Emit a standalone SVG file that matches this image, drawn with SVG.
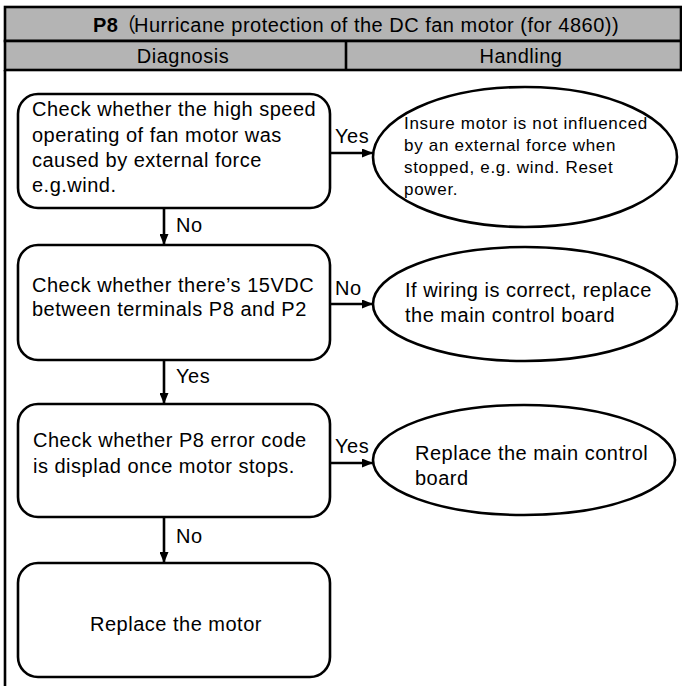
<svg xmlns="http://www.w3.org/2000/svg" width="682" height="686" viewBox="0 0 682 686">
<defs>
<style>
text{font-family:"Liberation Sans",Arial,"Noto Sans CJK SC",sans-serif;fill:#000}
.t{font-size:20px;letter-spacing:0.5px}
.s{font-size:17px;letter-spacing:0.7px}
.node{fill:#fff;stroke:#000;stroke-width:2.6}
.hdr{fill:#b4b4b4;stroke:#000;stroke-width:2.6}
.con line{stroke:#000;stroke-width:2.6}
</style>
<marker id="ah" viewBox="0 0 10 10" refX="10" refY="5" markerWidth="11" markerHeight="9" markerUnits="userSpaceOnUse" orient="auto" preserveAspectRatio="none">
<path d="M0,0 L10,5 L0,10 Z" fill="#000"/>
</marker>
</defs>
<rect width="682" height="686" fill="#fff"/>
<g id="header">
<rect class="hdr" x="5" y="7" width="676" height="34"/>
<rect class="hdr" x="5" y="41" width="676" height="29"/>
<line x1="346" y1="41" x2="346" y2="70" stroke="#000" stroke-width="2.6"/>
<line x1="5" y1="70" x2="5" y2="686" stroke="#000" stroke-width="2.6"/>
<text class="t" y="32"><tspan x="93" font-weight="bold">P8</tspan><tspan x="116" font-family="'Noto Sans CJK SC',sans-serif" letter-spacing="0">（</tspan><tspan x="134">Hurricane protection of the DC fan motor (for 4860))</tspan></text>
<text class="t" x="183" y="63" text-anchor="middle">Diagnosis</text>
<text class="t" x="521" y="63" text-anchor="middle">Handling</text>
</g>
<g class="con" id="connectors">
<line x1="164" y1="208" x2="164" y2="245" marker-end="url(#ah)"/>
<line x1="164" y1="360" x2="164" y2="404" marker-end="url(#ah)"/>
<line x1="164" y1="517" x2="164" y2="563" marker-end="url(#ah)"/>
<line x1="330" y1="153" x2="373" y2="153" marker-end="url(#ah)"/>
<line x1="330" y1="304" x2="373" y2="304" marker-end="url(#ah)"/>
<line x1="330" y1="463" x2="373" y2="463" marker-end="url(#ah)"/>
<text class="t" x="176" y="232">No</text>
<text class="t" x="176" y="383">Yes</text>
<text class="t" x="176" y="543">No</text>
<text class="t" x="335" y="143">Yes</text>
<text class="t" x="335" y="295">No</text>
<text class="t" x="335" y="453">Yes</text>
</g>
<g id="box1">
<rect class="node" x="18" y="94" width="312" height="114" rx="20"/>
<text class="t" x="32" y="116">Check whether the high speed</text>
<text class="t" x="32" y="142">operating of fan motor was</text>
<text class="t" x="32" y="167">caused by external force</text>
<text class="t" x="32" y="192">e.g.wind.</text>
</g>
<g id="box2">
<rect class="node" x="18" y="245" width="312" height="115" rx="20"/>
<text class="t" x="32" y="292">Check whether there’s 15VDC</text>
<text class="t" x="32" y="316">between terminals P8 and P2</text>
</g>
<g id="box3">
<rect class="node" x="18" y="404" width="312" height="113" rx="20"/>
<text class="t" x="33" y="447">Check whether P8 error code</text>
<text class="t" x="33" y="473">is displad once motor stops.</text>
</g>
<g id="box4">
<rect class="node" x="18" y="563" width="312" height="114" rx="20"/>
<text class="t" x="176" y="631" text-anchor="middle">Replace the motor</text>
</g>
<g id="ell1">
<ellipse class="node" cx="525" cy="157" rx="152" ry="70"/>
<text class="s" x="404" y="129">Insure motor is not influenced</text>
<text class="s" x="404" y="151">by an external force when</text>
<text class="s" x="404" y="173">stopped, e.g. wind. Reset</text>
<text class="s" x="404" y="195">power.</text>
</g>
<g id="ell2">
<ellipse class="node" cx="525" cy="304" rx="152" ry="57"/>
<text class="t" x="405" y="297">If wiring is correct, replace</text>
<text class="t" x="405" y="322">the main control board</text>
</g>
<g id="ell3">
<ellipse class="node" cx="524" cy="460" rx="151" ry="55"/>
<text class="t" x="415" y="460">Replace the main control</text>
<text class="t" x="415" y="485">board</text>
</g>
</svg>
